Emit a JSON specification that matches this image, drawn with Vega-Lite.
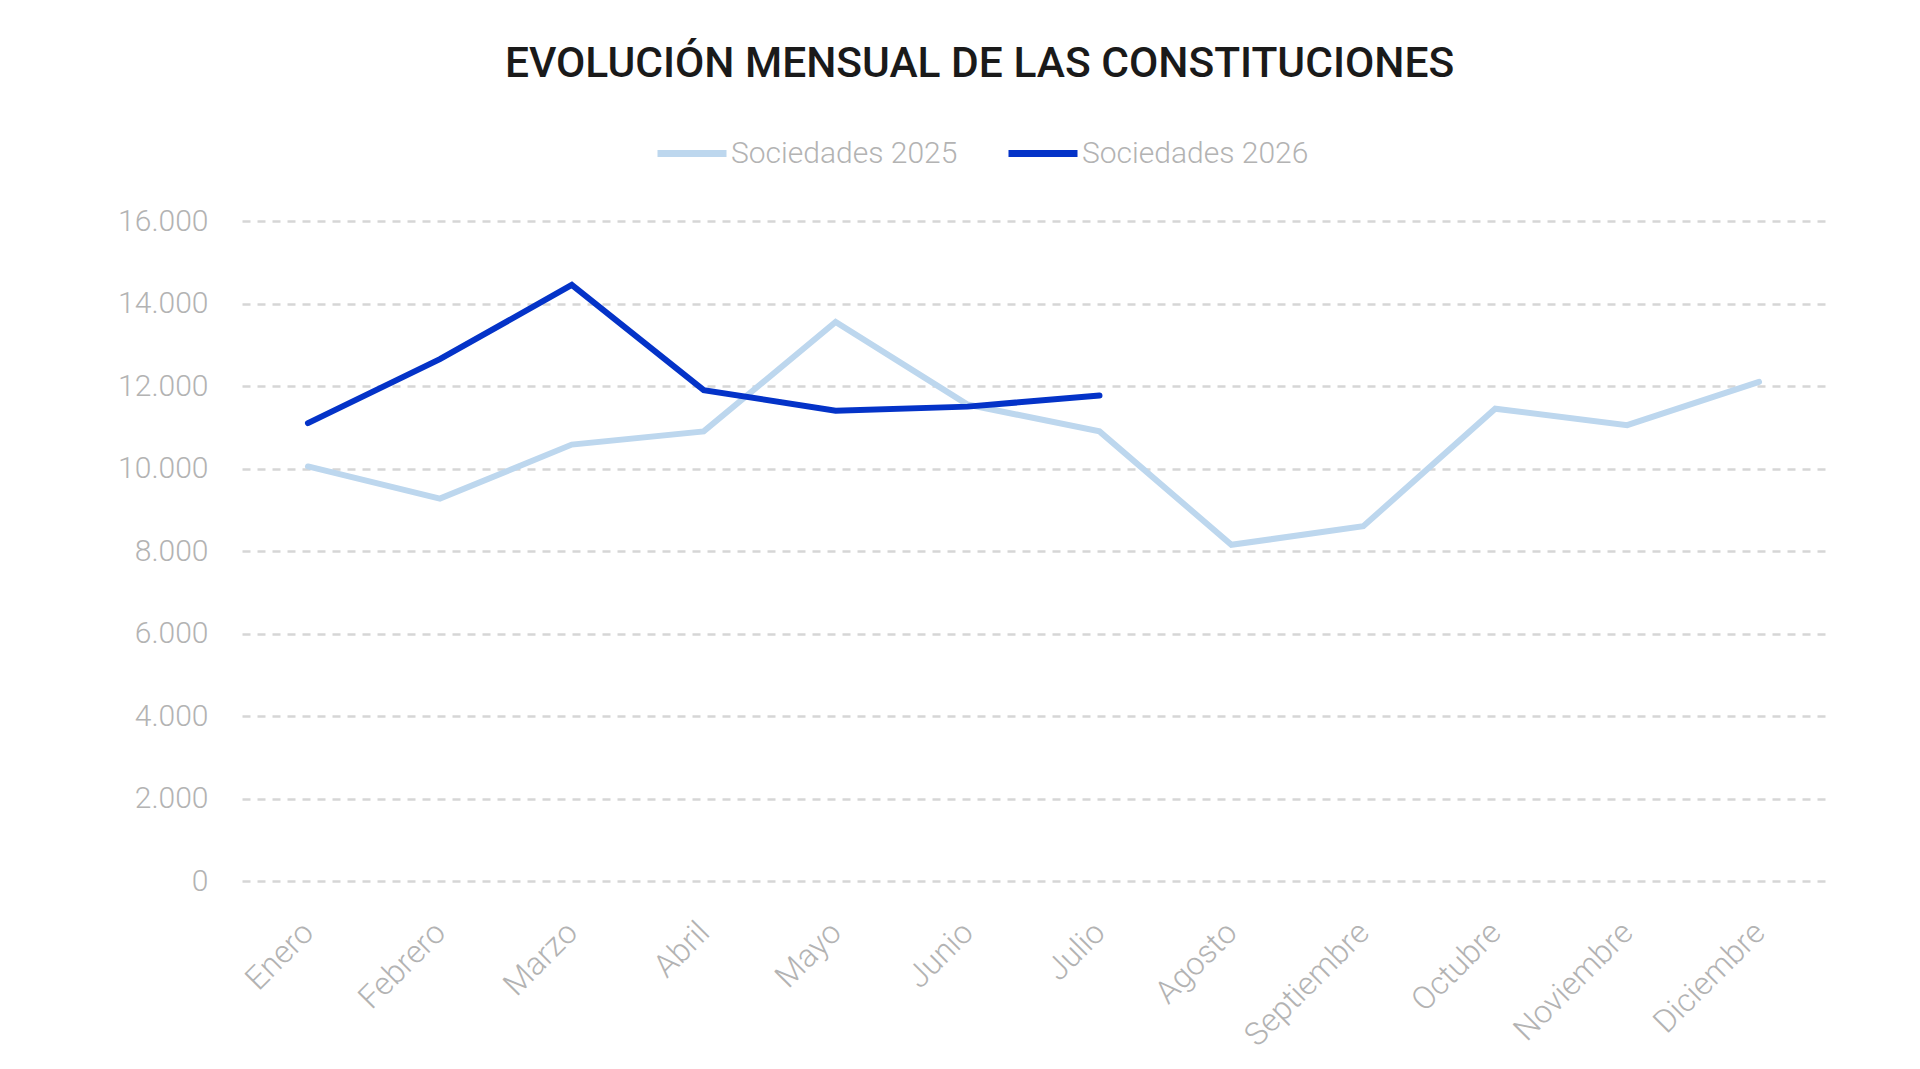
{
  "$schema": "https://vega.github.io/schema/vega-lite/v6.json",
  "autosize": {"type": "none"},
  "width": 1583,
  "height": 660,
  "padding": {"left": 242, "top": 221, "right": 95, "bottom": 188},
  "background": "white",
  "config": {
    "font": "Roboto",
    "view": {"stroke": null},
    "locale": {"number": {"decimal": ",", "thousands": ".", "grouping": [3], "currency": ["", " €"]}}
  },
  "title": {
    "text": "EVOLUCIÓN MENSUAL DE LAS CONSTITUCIONES",
    "anchor": "middle",
    "frame": "group",
    "dx": -54,
    "offset": 30,
    "fontSize": 42.5,
    "fontWeight": 500,
    "font": "Roboto",
    "color": "#1a1a1a"
  },
  "data": {
    "values": [
      {"mes": "Enero", "serie": "Sociedades 2025", "valor": 10050},
      {"mes": "Febrero", "serie": "Sociedades 2025", "valor": 9270},
      {"mes": "Marzo", "serie": "Sociedades 2025", "valor": 10580},
      {"mes": "Abril", "serie": "Sociedades 2025", "valor": 10900},
      {"mes": "Mayo", "serie": "Sociedades 2025", "valor": 13550},
      {"mes": "Junio", "serie": "Sociedades 2025", "valor": 11550},
      {"mes": "Julio", "serie": "Sociedades 2025", "valor": 10900},
      {"mes": "Agosto", "serie": "Sociedades 2025", "valor": 8150},
      {"mes": "Septiembre", "serie": "Sociedades 2025", "valor": 8600},
      {"mes": "Octubre", "serie": "Sociedades 2025", "valor": 11450},
      {"mes": "Noviembre", "serie": "Sociedades 2025", "valor": 11050},
      {"mes": "Diciembre", "serie": "Sociedades 2025", "valor": 12100},
      {"mes": "Enero", "serie": "Sociedades 2026", "valor": 11100},
      {"mes": "Febrero", "serie": "Sociedades 2026", "valor": 12650},
      {"mes": "Marzo", "serie": "Sociedades 2026", "valor": 14450},
      {"mes": "Abril", "serie": "Sociedades 2026", "valor": 11900},
      {"mes": "Mayo", "serie": "Sociedades 2026", "valor": 11400},
      {"mes": "Junio", "serie": "Sociedades 2026", "valor": 11500},
      {"mes": "Julio", "serie": "Sociedades 2026", "valor": 11770}
    ]
  },
  "mark": {"type": "line", "strokeWidth": 6, "strokeCap": "round", "strokeJoin": "miter"},
  "encoding": {
    "x": {
      "field": "mes",
      "type": "ordinal",
      "sort": ["Enero", "Febrero", "Marzo", "Abril", "Mayo", "Junio", "Julio", "Agosto", "Septiembre", "Octubre", "Noviembre", "Diciembre"],
      "scale": {"type": "point", "padding": 0.5},
      "axis": {
        "title": null,
        "labelAngle": -45,
        "labelFontSize": 32,
        "labelFontWeight": 300,
        "labelColor": "#b3b3b3",
        "labelPadding": 46,
        "labelBaseline": "middle",
        "domain": false,
        "ticks": false,
        "grid": false
      }
    },
    "y": {
      "field": "valor",
      "type": "quantitative",
      "scale": {"domain": [0, 16000]},
      "axis": {
        "title": null,
        "values": [0, 2000, 4000, 6000, 8000, 10000, 12000, 14000, 16000],
        "format": ",d",
        "labelFontSize": 30,
        "labelFontWeight": 300,
        "labelColor": "#b3b3b3",
        "labelPadding": 34,
        "domain": false,
        "ticks": false,
        "grid": true,
        "gridColor": "#d6d6d6",
        "gridWidth": 2.5,
        "gridDash": [8, 7]
      }
    },
    "color": {
      "field": "serie",
      "type": "nominal",
      "scale": {"domain": ["Sociedades 2025", "Sociedades 2026"], "range": ["#BDD7EE", "#0433C8"]},
      "legend": {
        "title": null,
        "orient": "none",
        "direction": "horizontal",
        "legendX": 412,
        "legendY": -105.5,
        "symbolType": "stroke",
        "symbolSize": 4761,
        "symbolStrokeWidth": 7,
        "labelFontSize": 30,
        "labelFontWeight": 300,
        "labelLimit": 500,
        "labelColor": "#b3b3b3",
        "labelOffset": 1,
        "columnPadding": 36
      }
    },
    "order": {"field": "serie", "type": "nominal"}
  }
}
